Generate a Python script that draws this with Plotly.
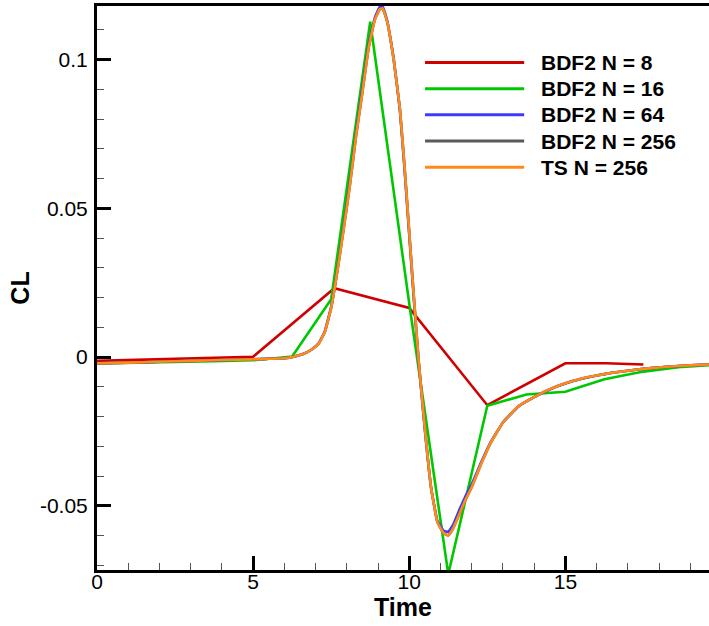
import plotly.graph_objects as go

# ---------------- data ----------------
names = ["BDF2 N = 8", "BDF2 N = 16", "BDF2 N = 64", "BDF2 N = 256", "TS N = 256"]
colors = ["#D00000", "#00C800", "#3C3CFF", "#5A5A5A", "#FF8A1C"]

t_n8 = [0.0, 2.5, 5.0, 7.6, 10.0, 12.5, 15.0, 16.3, 17.5]
cl_n8 = [-0.0013, -0.0006, 0.0001, 0.0231, 0.0165, -0.0162, -0.0021, -0.0021, -0.0025]

t_n16 = [0.0, 1.25, 2.5, 3.75, 5.0, 6.25, 7.5, 8.75, 10.0, 11.25, 12.5, 13.75,
         15.0, 16.25, 17.5, 18.75, 20.0]
cl_n16 = [-0.0022, -0.0020, -0.0017, -0.0014, -0.0011, 0.0002, 0.0194, 0.1127,
          0.0180, -0.0730, -0.0164, -0.0126, -0.0117, -0.0075, -0.0049, -0.0033,
          -0.0025]

t_fine = [0.0, 1.0, 2.0, 3.0, 4.0, 5.0, 5.5, 6.0, 6.3, 6.6, 6.9, 7.1, 7.3, 7.5,
          7.7, 7.9, 8.1, 8.3, 8.5, 8.7, 8.9, 9.05, 9.15, 9.3, 9.5, 9.7, 9.85,
          10.0, 10.15, 10.3, 10.5, 10.7, 10.9, 11.1, 11.25, 11.4, 11.6, 11.8,
          12.0, 12.3, 12.6, 13.0, 13.5, 14.0, 14.5, 15.0, 15.5, 16.0, 16.5,
          17.0, 17.5, 18.0, 18.5, 19.0, 19.6]

cl_n64 = [-0.0021, -0.0019, -0.0016, -0.0013, -0.0010, -0.0008, -0.0006, -0.0004,
          0.0001, 0.0010, 0.0027, 0.0046, 0.0088, 0.0170, 0.0295, 0.0440, 0.0590,
          0.0755, 0.0905, 0.1050, 0.1142, 0.1176, 0.1178, 0.1128, 0.1005, 0.0830,
          0.0630, 0.0410, 0.0190, -0.0015, -0.0245, -0.0440, -0.0550, -0.0584,
          -0.0588, -0.0565, -0.0515, -0.0468, -0.0428, -0.0355, -0.0288, -0.0220,
          -0.0166, -0.0135, -0.0109, -0.0089, -0.0074, -0.0062, -0.0053, -0.0046,
          -0.0040, -0.0035, -0.0031, -0.0028, -0.0025]

cl_n256 = [-0.0021, -0.0019, -0.0016, -0.0013, -0.0010, -0.0008, -0.0006, -0.0004,
           0.0001, 0.0010, 0.0027, 0.0045, 0.0085, 0.0165, 0.0290, 0.0430, 0.0578,
           0.0745, 0.0890, 0.1040, 0.1135, 0.1168, 0.1172, 0.1125, 0.1000, 0.0835,
           0.0640, 0.0420, 0.0200, -0.0010, -0.0240, -0.0440, -0.0555, -0.0592,
           -0.0600, -0.0578, -0.0530, -0.0480, -0.0438, -0.0360, -0.0290, -0.0220,
           -0.0165, -0.0135, -0.0108, -0.0088, -0.0073, -0.0062, -0.0053, -0.0046,
           -0.0040, -0.0035, -0.0031, -0.0028, -0.0025]

cl_ts = [-0.0021, -0.0019, -0.0016, -0.0013, -0.0010, -0.0008, -0.0006, -0.0004,
         0.0001, 0.0010, 0.0027, 0.0045, 0.0085, 0.0165, 0.0290, 0.0430, 0.0578,
         0.0745, 0.0890, 0.1040, 0.1135, 0.1168, 0.1172, 0.1125, 0.1000, 0.0835,
         0.0640, 0.0420, 0.0200, -0.0010, -0.0240, -0.0440, -0.0555, -0.0592,
         -0.0600, -0.0578, -0.0530, -0.0480, -0.0438, -0.0360, -0.0290, -0.0220,
         -0.0165, -0.0135, -0.0108, -0.0088, -0.0073, -0.0062, -0.0053, -0.0046,
         -0.0040, -0.0035, -0.0031, -0.0028, -0.0025]

x_ticks = [0, 5, 10, 15]
y_tickvals = [-0.05, 0, 0.05, 0.1]
y_ticktext = ["-0.05", "0", "0.05", "0.1"]

# ---------------- figure ----------------
series = [(t_n8, cl_n8), (t_n16, cl_n16), (t_fine, cl_n64), (t_fine, cl_n256), (t_fine, cl_ts)]

fig = go.Figure()
for (tx, ty), nm, col in zip(series, names, colors):
    fig.add_trace(go.Scatter(x=tx, y=ty, mode="lines", name=nm,
                             line=dict(color=col, width=2.6, shape="spline", smoothing=0.3)
                             if tx is t_fine else dict(color=col, width=2.6),
                             showlegend=False))

FONT = "Liberation Sans, Arial, Helvetica, sans-serif"

fig.update_layout(
    width=709, height=626,
    margin=dict(l=97, r=0, t=6, b=56),
    paper_bgcolor="white", plot_bgcolor="white",
    font=dict(family=FONT, color="black", size=21),
    xaxis=dict(range=[0, 19.6], tickmode="array", tickvals=x_ticks,
               ticks="inside", ticklen=14, tickwidth=2.5, tickcolor="black",
               showline=True, linewidth=3, linecolor="black", mirror=True,
               showgrid=False, zeroline=False,
               minor=dict(dtick=1, tick0=0, ticks="inside", ticklen=7,
                          tickwidth=1, tickcolor="#555555", showgrid=False),
               tickfont=dict(size=21), ticklabelstandoff=-9,
               title=dict(text="<b>Time</b>", font=dict(size=25), standoff=5)),
    yaxis=dict(range=[-0.0716, 0.118], tickmode="array", tickvals=y_tickvals,
               ticktext=y_ticktext,
               ticks="inside", ticklen=14, tickwidth=2.5, tickcolor="black",
               showline=True, linewidth=3, linecolor="black", mirror=False,
               showgrid=False, zeroline=False,
               minor=dict(dtick=0.01, tick0=0, ticks="inside", ticklen=7,
                          tickwidth=1, tickcolor="#555555", showgrid=False),
               tickfont=dict(size=21), ticklabelstandoff=2,
               title=dict(text="<b>CL</b>", font=dict(size=25), standoff=4)),
)

# manual legend (long line samples as in the reference)
leg_x0, leg_x1, leg_tx = 0.536, 0.698, 0.722
leg_y0, leg_dy = 0.900, 0.0465
for i, (nm, col) in enumerate(zip(names, colors)):
    yy = leg_y0 - i * leg_dy
    fig.add_shape(type="line", xref="paper", yref="paper",
                  x0=leg_x0, x1=leg_x1, y0=yy, y1=yy,
                  line=dict(color=col, width=3))
    fig.add_annotation(xref="paper", yref="paper", x=leg_tx, y=yy,
                       text="<b>" + nm + "</b>", showarrow=False,
                       xanchor="left", yanchor="middle",
                       font=dict(size=21, family=FONT, color="black"))

fig.write_html("out.html")
